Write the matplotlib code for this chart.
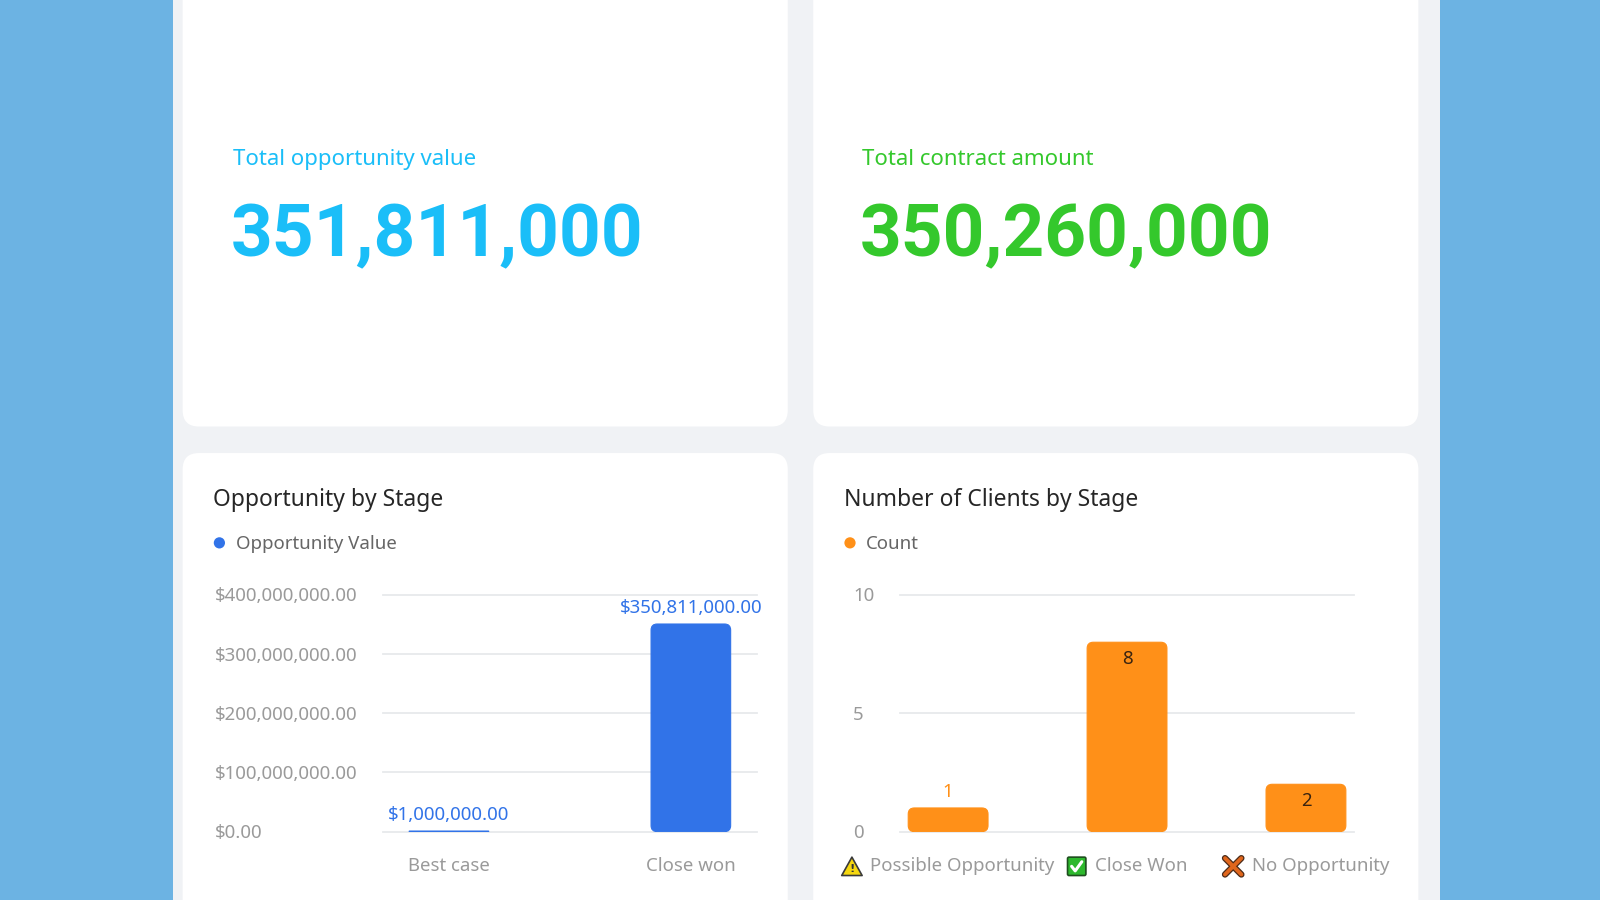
import matplotlib
matplotlib.use("Agg")
import matplotlib.pyplot as plt
import matplotlib.transforms as mtransforms
from matplotlib.patches import FancyBboxPatch, Rectangle, Circle, Polygon

# ---- data ----
kpi_labels = ["Total opportunity value", "Total contract amount"]
kpi_values = [351811000, 350260000]

opp_stages = ["Best case", "Close won"]
opp_values = [1000000, 350811000]
opp_ticks = [0, 100000000, 200000000, 300000000, 400000000]

client_stages = ["Possible Opportunity", "Close Won", "No Opportunity"]
client_icons = ["warn", "check", "cross"]
client_counts = [1, 8, 2]
client_ticks = [0, 5, 10]

# ---- styling ----
W, H = 1568, 882          # layout is measured in these units
S = 1600 / W              # output px per layout unit
FONT = ["Noto Sans", "DejaVu Sans"]
plt.rcParams["font.family"] = FONT

BLUE_BG = "#6CB3E3"
PANEL = "#F0F2F5"
CYAN = "#1ABEF8"
GREEN = "#34C82C"
BAR_BLUE = "#3173E8"
ORANGE = "#FF9018"
TITLE = "#262626"
LEG = "#666666"
TICK = "#9A9A9A"
GRID = "#E7E9EC"
TXT = 18.3


def pt(px):
    # layout px (em) -> points
    return px * S * 0.72


def rect(x0, y0, x1, y1):
    return [x0 / W, 1 - y1 / H, (x1 - x0) / W, (y1 - y0) / H]


fig = plt.figure(figsize=(16, 9), dpi=100)
fig.patch.set_facecolor(BLUE_BG)
bg = fig.add_axes([0, 0, 1, 1])
bg.set_xlim(0, W)
bg.set_ylim(H, 0)
bg.axis("off")

bg.add_patch(Rectangle((170, -5), 1241, H + 10, fc=PANEL, ec="none"))
for (x0, y0, x1, y1) in [(179, -40, 772, 418), (797, -40, 1390, 418),
                         (179, 444, 772, 930), (797, 444, 1390, 930)]:
    bg.add_patch(FancyBboxPatch((x0, y0), x1 - x0, y1 - y0,
                                boxstyle="round,pad=0,rounding_size=16",
                                fc="white", ec="none"))

# KPI cards
for lx, lab, val, col in [(228, kpi_labels[0], kpi_values[0], CYAN),
                          (845, kpi_labels[1], kpi_values[1], GREEN)]:
    bg.text(lx, 156, lab, color=col, fontsize=pt(21.8), va="center", ha="left")
    bg.text(lx - 2, 251, f"{val:,}", color=col, fontsize=pt(71.5), va="baseline",
            ha="left", family=["Roboto", "DejaVu Sans"], fontweight="bold")

# chart headers
for tx, title, leg, col in [(209, "Opportunity by Stage", "Opportunity Value", BAR_BLUE),
                            (827, "Number of Clients by Stage", "Count", ORANGE)]:
    bg.text(tx, 496, title, color=TITLE, fontsize=pt(22.4), va="baseline", ha="left")
    bg.add_patch(Circle((tx + 6, 532), 5.5, fc=col, ec="none"))
    bg.text(tx + 22, 533, leg, color=LEG, fontsize=pt(TXT), va="center", ha="left")


def round_bars(ax, bars, r_px=6):
    pos = ax.get_position()
    wpx = pos.width * fig.bbox.width
    hpx = pos.height * fig.bbox.height
    x0, x1 = ax.get_xlim()
    y0, y1 = ax.get_ylim()
    xpp = (x1 - x0) / wpx
    ypp = (y1 - y0) / hpx
    for b in bars:
        x, y = b.get_xy()
        w, h = b.get_width(), b.get_height()
        r = min(r_px * S, h / ypp / 2, w / xpp / 2)
        fc = b.get_facecolor()
        p = FancyBboxPatch((x, y), w, h,
                           boxstyle=f"round,pad=0,rounding_size={r * xpp}",
                           mutation_aspect=ypp / xpp, fc=fc, ec=fc, lw=0.8)
        b.remove()
        ax.add_patch(p)


def setup_axes(ax, ticks, labels, label_x):
    ax.set_facecolor("none")
    for s in ax.spines.values():
        s.set_visible(False)
    ax.set_yticks(ticks)
    ax.tick_params(axis="y", length=0, labelleft=False)
    ax.tick_params(axis="x", length=0, labelbottom=False)
    ax.yaxis.grid(True, color=GRID, lw=1.3)
    for gl in ax.get_ygridlines():
        gl.set_clip_on(False)
    ax.set_axisbelow(True)
    tr = mtransforms.blended_transform_factory(bg.transData, ax.transData)
    tr = mtransforms.offset_copy(tr, fig=fig, y=-1.5 * S, units="dots")
    for t, lab in zip(ticks, labels):
        ax.text(label_x, t, lab, transform=tr, ha="left", va="center",
                color=TICK, fontsize=pt(TXT))


# ---- Opportunity by Stage ----
ax1 = fig.add_axes(rect(375, 583, 742, 815))
ax1.set_ylim(0, opp_ticks[-1])
ax1.set_xlim(-0.274, len(opp_stages) - 1 + 0.274)
setup_axes(ax1, opp_ticks, [f"${t:,.2f}" for t in opp_ticks], 211)
xs1 = list(range(len(opp_stages)))
bars1 = ax1.bar(xs1, opp_values, width=0.329, color=BAR_BLUE)
round_bars(ax1, bars1)
for x, v in zip(xs1, opp_values):
    ax1.annotate(f"${v:,.2f}", (x, v), xytext=(0, 16 * S), textcoords="offset pixels",
                 ha="center", va="center", color=BAR_BLUE, fontsize=pt(TXT))
trx1 = mtransforms.blended_transform_factory(ax1.transData, bg.transData)
for x, lab in zip(xs1, opp_stages):
    ax1.text(x, 849, lab, transform=trx1, ha="center", va="center",
             color=TICK, fontsize=pt(TXT))

# ---- Number of Clients by Stage ----
ax2 = fig.add_axes(rect(882, 583, 1327, 815))
ax2.set_ylim(0, client_ticks[-1])
ax2.set_xlim(-0.269, len(client_stages) - 1 + 0.269)
setup_axes(ax2, client_ticks, [str(t) for t in client_ticks], 836)
xs2 = list(range(len(client_stages)))
bars2 = ax2.bar(xs2, client_counts, width=0.446, color=ORANGE)
round_bars(ax2, bars2)
ypx = (ax2.get_position().height * fig.bbox.height) / client_ticks[-1]
for x, v in zip(xs2, client_counts):
    if v * ypx > 35:
        ax2.annotate(str(v), (x, v), xytext=(0, -16 * S), textcoords="offset pixels",
                     ha="center", va="center", color="#3A2410", fontsize=pt(TXT))
    else:
        ax2.annotate(str(v), (x, v), xytext=(0, 16 * S), textcoords="offset pixels",
                     ha="center", va="center", color=ORANGE, fontsize=pt(TXT))

ICON_W, GAP = 20, 8
trx2 = mtransforms.blended_transform_factory(ax2.transData, bg.transData)
xlabels = []
for x, lab in zip(xs2, client_stages):
    t = ax2.text(x, 849, lab, ha="center", va="center", color=TICK, fontsize=pt(TXT),
                 transform=mtransforms.offset_copy(trx2, fig=fig, x=(ICON_W + GAP) / 2 * S,
                                                   units="dots"))
    xlabels.append(t)

fig.canvas.draw()
inv = bg.transData.inverted()
for t, kind in zip(xlabels, client_icons):
    bb = t.get_window_extent()
    left = inv.transform((bb.x0, bb.y0))[0]
    cx, cy = left - GAP - ICON_W / 2, 849
    if kind == "warn":
        bg.add_patch(Polygon([(cx - 10, cy + 9), (cx + 10, cy + 9), (cx, cy - 9)],
                             closed=True, fc="#F5D70F", ec="#3A3A3A", lw=1.2,
                             joinstyle="round"))
        bg.text(cx, cy + 3, "!", ha="center", va="center", fontsize=pt(11),
                fontweight="bold", color="#333333", family=["DejaVu Sans"])
    elif kind == "check":
        bg.add_patch(FancyBboxPatch((cx - 9, cy - 9), 18, 18,
                                    boxstyle="round,pad=0,rounding_size=1.5",
                                    fc="#2DB82D", ec="#1E4E1E", lw=1.2))
        bg.plot([cx - 5, cx - 1.5, cx + 5], [cy, cy + 4.5, cy - 4.5],
                color="white", lw=2.2, solid_capstyle="round")
    else:
        for dx in (1, -1):
            bg.plot([cx - 8 * dx, cx + 8 * dx], [cy - 8, cy + 8], color="#4A2A18",
                    lw=4.6, solid_capstyle="round")
        for dx in (1, -1):
            bg.plot([cx - 8 * dx, cx + 8 * dx], [cy - 8, cy + 8], color="#E0661C",
                    lw=2.8, solid_capstyle="round")

fig.savefig("out.png", dpi=100, facecolor=fig.get_facecolor())
